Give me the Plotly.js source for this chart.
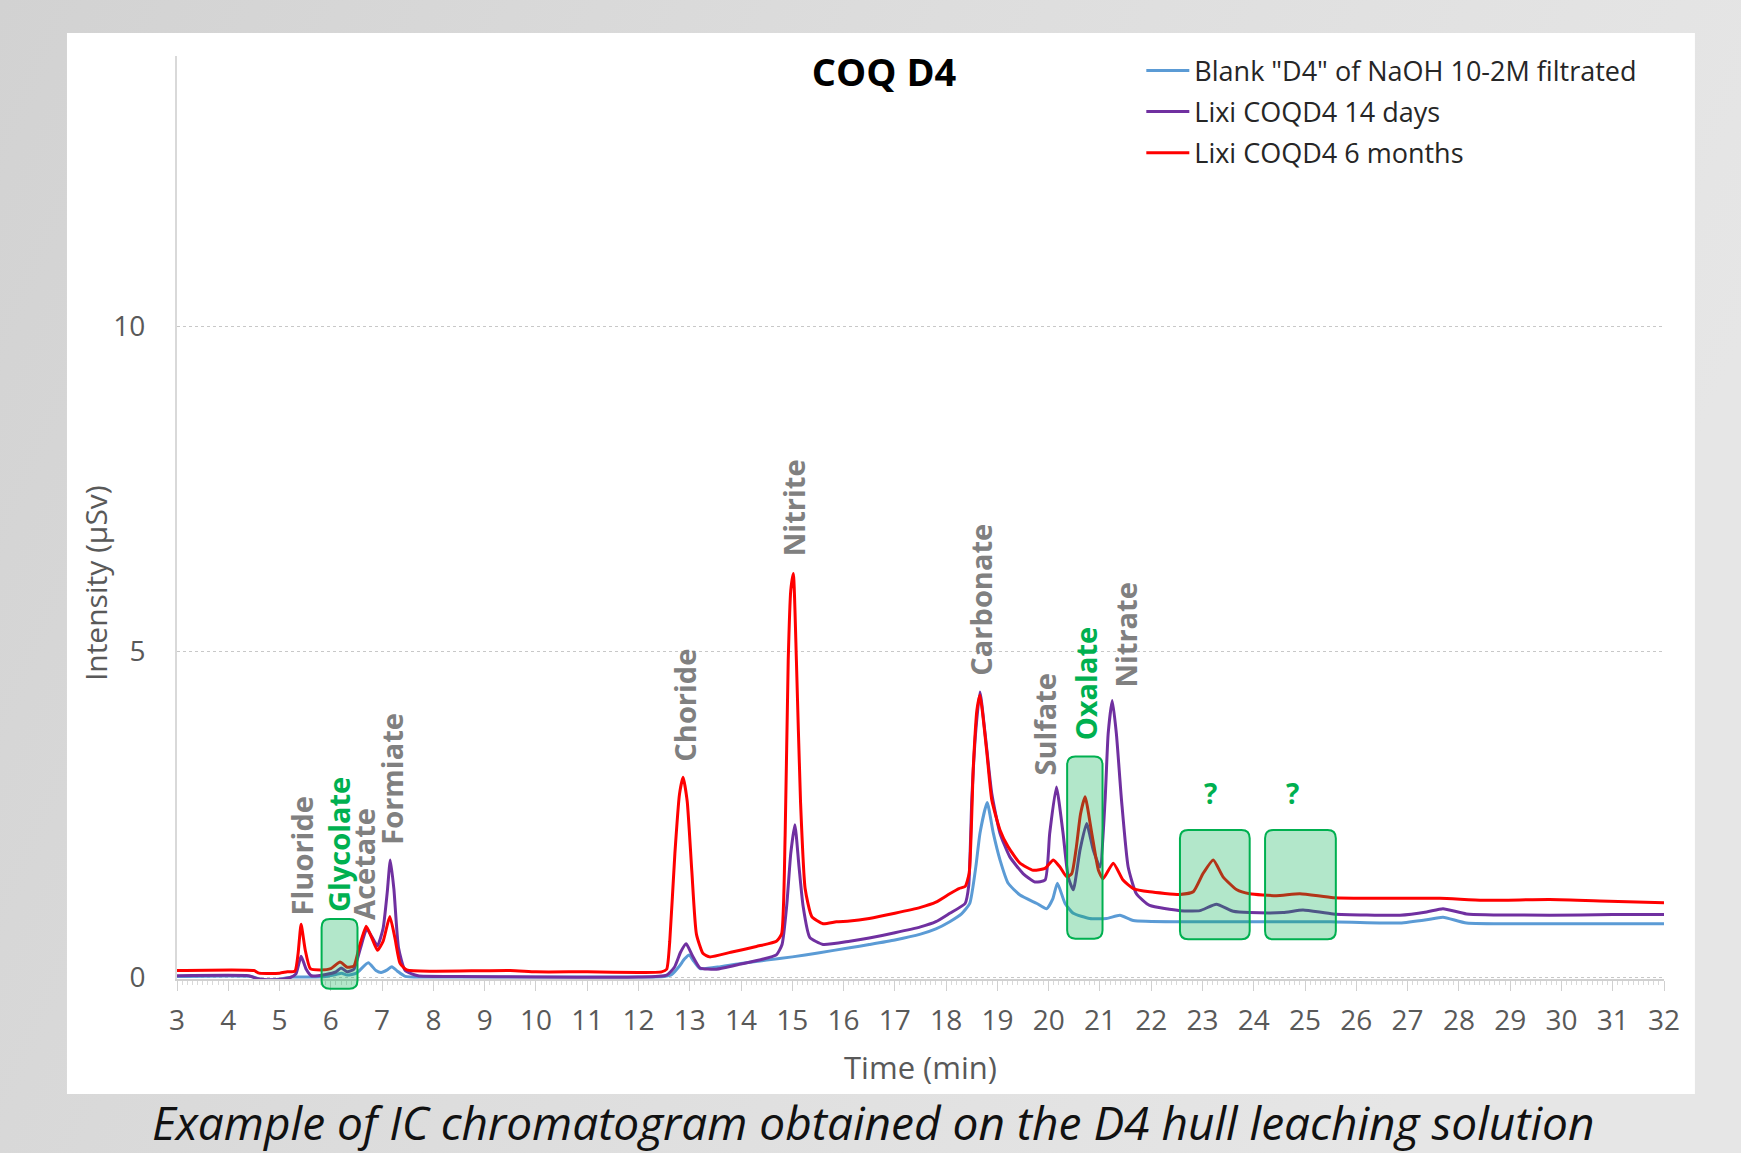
<!DOCTYPE html>
<html>
<head>
<meta charset="utf-8">
<script src="https://cdn.plot.ly/plotly-3.0.1.min.js"></script>
<style>
  html, body { margin: 0; padding: 0; background: #dcdcdc; }
  #chart { width: 1741px; height: 1153px; }
</style>
</head>
<body>
<div id="chart"></div>
<script>
// ---------------- DATA ----------------
const seriesNames = ['Blank "D4" of NaOH 10-2M filtrated', 'Lixi COQD4 14 days', 'Lixi COQD4 6 months'];

const timeBlank = [3, 4.45, 4.6, 4.8, 5.0, 5.25, 5.6, 5.9, 6.1, 6.21, 6.32, 6.5, 6.73, 6.88, 6.98, 7.1, 7.19, 7.3, 7.45, 7.8, 9, 10, 11, 12, 12.5, 12.65, 12.8, 12.9, 12.99, 13.08, 13.2, 13.6, 14, 14.5, 15, 15.5, 16.12, 16.5, 17, 17.5, 17.8, 18.07, 18.3, 18.46, 18.58, 18.66, 18.8, 18.92, 19.05, 19.21, 19.44, 19.77, 19.96, 20.08, 20.17, 20.32, 20.48, 20.8, 21.13, 21.39, 21.65, 22.56, 23.5, 24.5, 25.5, 26.85, 27.37, 27.69, 28.15, 29.77, 31, 32];
const valuesBlank = [0.01, 0.01, -0.03, -0.05, -0.03, 0.0, 0.0, 0.01, 0.04, 0.06, 0.03, 0.06, 0.22, 0.1, 0.07, 0.11, 0.16, 0.09, 0.01, 0.0, 0.0, 0.0, 0.0, 0.0, 0.01, 0.04, 0.17, 0.28, 0.34, 0.24, 0.13, 0.16, 0.21, 0.26, 0.31, 0.37, 0.45, 0.5, 0.57, 0.66, 0.74, 0.85, 0.97, 1.13, 1.7, 2.21, 2.68, 2.21, 1.8, 1.44, 1.26, 1.13, 1.05, 1.2, 1.44, 1.13, 0.98, 0.9, 0.9, 0.95, 0.87, 0.85, 0.85, 0.85, 0.85, 0.83, 0.88, 0.92, 0.83, 0.82, 0.82, 0.82];

const time14d = [3, 4.4, 4.55, 4.75, 4.95, 5.2, 5.32, 5.42, 5.52, 5.62, 5.9, 6.1, 6.2, 6.32, 6.45, 6.58, 6.7, 6.8, 6.91, 7.02, 7.1, 7.16, 7.23, 7.32, 7.45, 7.7, 8.5, 10, 12, 12.55, 12.7, 12.82, 12.93, 13.05, 13.2, 13.52, 14, 14.4, 14.69, 14.8, 14.89, 14.97, 15.05, 15.13, 15.21, 15.34, 15.6, 16.12, 16.5, 17, 17.5, 17.8, 18.07, 18.37, 18.44, 18.5, 18.58, 18.66, 18.76, 18.89, 19.05, 19.24, 19.5, 19.73, 19.93, 20.02, 20.15, 20.28, 20.38, 20.48, 20.61, 20.74, 20.87, 21.0, 21.1, 21.16, 21.24, 21.32, 21.42, 21.55, 21.71, 21.97, 22.56, 22.95, 23.27, 23.6, 23.92, 24.57, 24.96, 25.55, 26.85, 27.37, 27.69, 28.15, 29.77, 31, 32];
const values14d = [0.02, 0.02, -0.02, -0.04, -0.04, -0.01, 0.05, 0.32, 0.12, 0.02, 0.04, 0.08, 0.14, 0.08, 0.12, 0.45, 0.74, 0.62, 0.48, 0.75, 1.3, 1.8, 1.35, 0.45, 0.1, 0.02, 0.01, 0.0, 0.0, 0.03, 0.15, 0.38, 0.51, 0.33, 0.14, 0.12, 0.2, 0.27, 0.34, 0.5, 1.09, 1.9, 2.34, 1.7, 1.09, 0.61, 0.5, 0.55, 0.6, 0.68, 0.77, 0.85, 0.98, 1.13, 1.4, 2.72, 3.8, 4.38, 3.74, 2.82, 2.21, 1.85, 1.59, 1.46, 1.49, 2.21, 2.92, 2.21, 1.54, 1.34, 1.95, 2.36, 1.95, 1.69, 2.72, 3.74, 4.25, 3.74, 2.72, 1.69, 1.28, 1.1, 1.02, 1.02, 1.12, 1.01, 0.99, 0.99, 1.03, 0.97, 0.95, 1.0, 1.05, 0.97, 0.95, 0.96, 0.96];

const time6m = [3, 4.5, 4.6, 5.0, 5.15, 5.3, 5.36, 5.42, 5.5, 5.6, 5.8, 6.0, 6.18, 6.32, 6.45, 6.55, 6.69, 6.8, 6.91, 7.02, 7.15, 7.25, 7.35, 7.48, 8, 9.5, 10, 11, 12, 12.45, 12.55, 12.61, 12.71, 12.8, 12.87, 12.95, 13.04, 13.13, 13.26, 13.39, 13.8, 14.3, 14.69, 14.79, 14.86, 14.92, 14.97, 15.02, 15.08, 15.16, 15.25, 15.38, 15.6, 15.86, 16.12, 16.5, 17, 17.5, 17.8, 18.07, 18.25, 18.37, 18.45, 18.53, 18.6, 18.66, 18.79, 18.89, 19.05, 19.21, 19.44, 19.7, 19.93, 20.09, 20.22, 20.35, 20.45, 20.54, 20.62, 20.71, 20.84, 20.97, 21.06, 21.26, 21.45, 21.65, 21.97, 22.56, 22.82, 23.01, 23.21, 23.4, 23.67, 23.92, 24.44, 24.9, 25.55, 26.52, 27.63, 28.47, 29.77, 30.75, 32];
const values6m = [0.1, 0.1, 0.06, 0.06, 0.08, 0.09, 0.35, 0.81, 0.42, 0.13, 0.11, 0.13, 0.23, 0.15, 0.17, 0.45, 0.78, 0.6, 0.41, 0.55, 0.93, 0.6, 0.21, 0.11, 0.09, 0.1, 0.08, 0.08, 0.07, 0.08, 0.12, 0.55, 1.9, 2.81, 3.07, 2.7, 1.63, 0.66, 0.36, 0.31, 0.38, 0.47, 0.55, 0.66, 2.17, 4.86, 5.94, 6.2, 4.86, 2.7, 1.36, 0.93, 0.82, 0.85, 0.86, 0.9, 0.98, 1.07, 1.15, 1.28, 1.36, 1.39, 1.6, 3.23, 4.1, 4.33, 3.48, 2.72, 2.26, 2.0, 1.75, 1.64, 1.67, 1.8, 1.69, 1.54, 1.59, 2.0, 2.5, 2.77, 2.21, 1.64, 1.51, 1.75, 1.49, 1.36, 1.31, 1.27, 1.31, 1.59, 1.8, 1.54, 1.34, 1.28, 1.25, 1.28, 1.22, 1.21, 1.21, 1.18, 1.19, 1.17, 1.14];

// peak labels
const peakLabels = ['Fluoride', 'Glycolate', 'Acetate', 'Formiate', 'Choride', 'Nitrite', 'Carbonate', 'Sulfate', 'Oxalate', 'Nitrate'];
const peakTimes = [5.42, 6.14, 6.65, 7.19, 12.88, 15.03, 18.68, 19.92, 20.71, 21.49];
const peakLabelBase = [0.91, 0.96, 0.85, 2.0, 3.28, 6.44, 4.6, 3.06, 3.6, 4.41];
const peakHighlighted = [false, true, false, false, false, false, false, false, true, false];

// highlighted regions: [t0, t1, v0, v1]
const highlightBoxes = [[5.82, 6.52, -0.18, 0.89], [20.36, 21.05, 0.59, 3.39], [22.56, 23.92, 0.58, 2.26], [24.22, 25.60, 0.58, 2.26]];
const unknownTimes = [23.16, 24.76];
const unknownLevel = 2.82;

const xTickVals = [3,4,5,6,7,8,9,10,11,12,13,14,15,16,17,18,19,20,21,22,23,24,25,26,27,28,29,30,31,32];
const yTickVals = [0, 5, 10];

// ---------------- STYLE ----------------
const FONT = 'Open Sans, sans-serif';
const GREY = '#595959';
const GREEN = '#00b050';
const yRange = [-0.03, 14.15];
const xRange = [3, 32];
const toPaperY = v => (v - yRange[0]) / (yRange[1] - yRange[0]);

function mk(t, v, name, color, grp) {
  return { x: t, y: v, name: name, type: 'scatter', mode: 'lines', legendgroup: grp,
           line: { color: color, width: 3, shape: 'spline', smoothing: 0.5 }, hoverinfo: 'x+y+name' };
}
const traces = [
  mk(timeBlank, valuesBlank, seriesNames[0], '#5b9bd5', 'g1'),
  mk(time14d, values14d, seriesNames[1], '#7030a0', 'g2'),
  mk(time6m, values6m, seriesNames[2], '#ff0000', 'g3')
];

const shapes = [];
// white card
shapes.push({ type: 'rect', xref: 'paper', yref: 'paper', x0: -0.074, x1: 1.0208, y0: -0.1246, y1: 1.0249,
  fillcolor: '#ffffff', line: { width: 0 }, layer: 'below' });
// rounded highlight boxes (x in data, y in paper so they can extend below the axis)
const rx = 0.16, ry = 0.009;
highlightBoxes.forEach(b => {
  const x0 = b[0], x1 = b[1], y0 = toPaperY(b[2]), y1 = toPaperY(b[3]);
  const p = `M${x0 + rx},${y1} L${x1 - rx},${y1} Q${x1},${y1} ${x1},${y1 - ry} L${x1},${y0 + ry} Q${x1},${y0} ${x1 - rx},${y0} L${x0 + rx},${y0} Q${x0},${y0} ${x0},${y0 + ry} L${x0},${y1 - ry} Q${x0},${y1} ${x0 + rx},${y1} Z`;
  shapes.push({ type: 'path', xref: 'x', yref: 'paper', path: p, fillcolor: 'rgba(0,176,80,0.30)',
    line: { color: GREEN, width: 2 }, layer: 'above' });
});

const annotations = [];
peakLabels.forEach((lab, i) => {
  annotations.push({ x: peakTimes[i], y: peakLabelBase[i], xref: 'x', yref: 'y', text: lab, showarrow: false,
    textangle: -90, xanchor: 'center', yanchor: 'bottom',
    font: { family: FONT, size: 29, weight: 700, color: peakHighlighted[i] ? GREEN : '#808080' } });
});
unknownTimes.forEach(t => {
  annotations.push({ x: t, y: unknownLevel, xref: 'x', yref: 'y', text: '?', showarrow: false,
    xanchor: 'center', yanchor: 'middle', font: { family: FONT, size: 28, weight: 700, color: GREEN } });
});
// y axis title (placed off-centre as in the original)
annotations.push({ x: -0.0551, y: 0.429, xref: 'paper', yref: 'paper', showarrow: false, text: 'Intensity (µSv)',
  textangle: -90, xanchor: 'center', yanchor: 'middle', font: { family: FONT, size: 30, color: GREY } });
// caption
annotations.push({ x: 0.468, y: -0.155, xref: 'paper', yref: 'paper', showarrow: false,
  text: 'Example of IC chromatogram obtained on the D4 hull leaching solution',
  xanchor: 'center', yanchor: 'middle', font: { family: FONT, size: 46, style: 'italic', color: '#111111' } });

const bgSvg = '<svg xmlns="http://www.w3.org/2000/svg" width="100" height="100" preserveAspectRatio="none">' +
  '<defs><linearGradient id="g" x1="0" y1="0" x2="1" y2="0.3">' +
  '<stop offset="0" stop-color="#d2d2d2"/><stop offset="0.5" stop-color="#dddddd"/><stop offset="1" stop-color="#e6e6e6"/>' +
  '</linearGradient></defs><rect width="100" height="100" fill="url(#g)"/></svg>';

const layout = {
  width: 1741, height: 1153,
  margin: { l: 177, r: 77, t: 56, b: 174 },
  paper_bgcolor: '#dcdcdc',
  plot_bgcolor: '#ffffff',
  font: { family: FONT, color: GREY },
  title: { text: '<b>COQ D4</b>', x: 0.4755, xref: 'paper', xanchor: 'center', y: 0.9367, yref: 'container', yanchor: 'middle',
    font: { family: FONT, size: 38, color: '#000000' } },
  showlegend: true,
  legend: { x: 0.6485, y: 1.0104, xanchor: 'left', yanchor: 'top', bgcolor: 'rgba(0,0,0,0)',
    font: { family: FONT, size: 27, color: '#262626' }, tracegroupgap: 3, traceorder: 'grouped', itemwidth: 43 },
  images: [{ source: 'data:image/svg+xml;charset=utf-8,' + encodeURIComponent(bgSvg), xref: 'paper', yref: 'paper',
    x: -0.11903, y: 1.06067, sizex: 1.17081, sizey: 1.24919, xanchor: 'left', yanchor: 'top', sizing: 'stretch', layer: 'below' }],
  xaxis: {
    range: xRange, tickvals: xTickVals, showgrid: false, zeroline: false,
    showline: true, linecolor: '#d0d0d0', linewidth: 2,
    ticks: 'outside', ticklen: 10, tickcolor: '#d0d0d0', tickwidth: 1,
    minor: { dtick: 0.1, ticks: 'outside', ticklen: 4, tickcolor: '#d9d9d9', tickwidth: 1 },
    tickfont: { family: FONT, size: 28, color: GREY }, ticklabelstandoff: 5,
    title: { text: 'Time (min)', font: { family: FONT, size: 31, color: GREY }, standoff: 21 }
  },
  yaxis: {
    range: yRange, tickvals: yTickVals, showgrid: true, gridcolor: '#c8c8c8', griddash: 'dot', gridwidth: 1,
    zeroline: false, showline: true, linecolor: '#d9d9d9', linewidth: 2, ticks: '',
    tickfont: { family: FONT, size: 28, color: GREY }, ticklabelstandoff: 24
  },
  shapes: shapes,
  annotations: annotations
};

Plotly.newPlot('chart', traces, layout, { displayModeBar: false, staticPlot: true });
</script>
</body>
</html>
